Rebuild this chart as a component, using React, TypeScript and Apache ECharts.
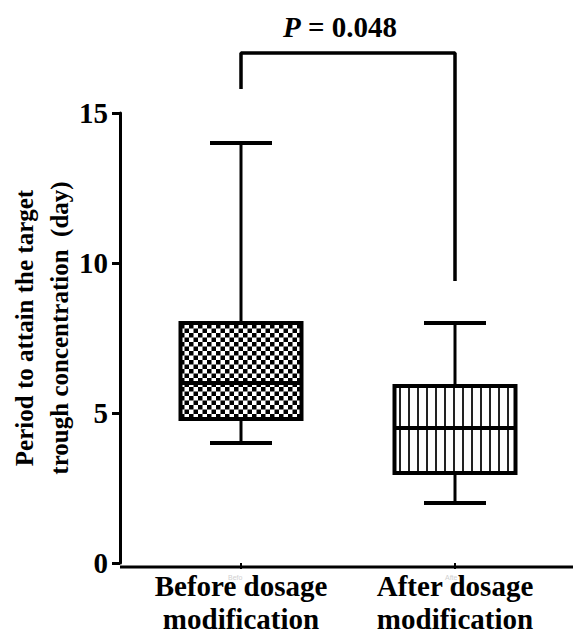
import React, { useEffect, useRef } from 'react';
import * as echarts from 'echarts';

const categories = ['Before dosage\nmodification', 'After dosage\nmodification'];
// [min, Q1, median, Q3, max]
const boxStats = [
  [4, 4.8, 6, 8, 14],
  [2, 3, 4.5, 5.9, 8],
];
const yMin = 0;
const yMax = 15;
const yInterval = 5;
const pValueText = '0.048';
// bracket: [category index, value]
const bracketPoints = [
  [0, 15.8],
  [0, 17],
  [1, 17],
  [1, 9.4],
];
const yTitleLines = ['Period to attain the target', 'trough concentration  (day)'];

const FONT = 'Liberation Serif';

function makeChecker(): HTMLCanvasElement {
  const c = document.createElement('canvas');
  c.width = 9;
  c.height = 9;
  const ctx = c.getContext('2d')!;
  ctx.fillStyle = '#fff';
  ctx.fillRect(0, 0, 9, 9);
  ctx.fillStyle = '#000';
  ctx.fillRect(0, 0, 4.5, 4.5);
  ctx.fillRect(4.5, 4.5, 4.5, 4.5);
  return c;
}

function makeVLines(): HTMLCanvasElement {
  const c = document.createElement('canvas');
  c.width = 9;
  c.height = 9;
  const ctx = c.getContext('2d')!;
  ctx.fillStyle = '#fff';
  ctx.fillRect(0, 0, 9, 9);
  ctx.fillStyle = '#222';
  ctx.fillRect(3, 0, 2, 9);
  return c;
}

export default function App() {
  const ref = useRef<HTMLDivElement>(null);
  useEffect(() => {
    if (!ref.current) return;
    const chart = echarts.init(ref.current, undefined, { renderer: 'svg' });
    const patterns = [makeChecker(), makeVLines()];
    const boxData = boxStats.map((v, i) => [i, ...v]);
    const BOX_W = 121;
    const CAP_W = 62;
    chart.setOption({
      animation: false,
      grid: { left: 134, right: 11, top: 113, bottom: 68 },
      xAxis: {
        type: 'category',
        data: categories,
        boundaryGap: true,
        axisLine: { show: false },
        axisTick: { show: true, alignWithLabel: true, length: 6, lineStyle: { color: '#000', width: 2 } },
        axisLabel: {
          color: '#000',
          fontFamily: FONT,
          fontWeight: 'bold',
          fontSize: 29,
          lineHeight: 33,
          margin: 6,
          interval: 0,
        },
        splitLine: { show: false },
      },
      yAxis: {
        type: 'value',
        min: yMin,
        max: yMax,
        interval: yInterval,
        offset: 14,
        axisLine: { show: true, lineStyle: { color: '#000', width: 3 } },
        axisTick: { show: true, length: 8, lineStyle: { color: '#000', width: 3 } },
        axisLabel: {
          color: '#000',
          fontFamily: FONT,
          fontWeight: 'bold',
          fontSize: 29,
          margin: 12,
        },
        splitLine: { show: false },
      },
      series: [
        {
          type: 'custom',
          data: boxData,
          encode: { x: 0, y: [1, 2, 3, 4, 5] },
          silent: true,
          renderItem: (params: any, api: any) => {
            const cat = api.value(0);
            const cx = api.coord([cat, 0])[0];
            const yMinP = api.coord([cat, api.value(1)])[1];
            const yQ1 = api.coord([cat, api.value(2)])[1];
            const yMed = api.coord([cat, api.value(3)])[1];
            const yQ3 = api.coord([cat, api.value(4)])[1];
            const yMaxP = api.coord([cat, api.value(5)])[1];
            const lineStyle = { stroke: '#000', lineWidth: 3 };
            const capStyle = { stroke: '#000', lineWidth: 4 };
            return {
              type: 'group',
              children: [
                { type: 'line', shape: { x1: cx, y1: yQ3, x2: cx, y2: yMaxP }, style: lineStyle },
                { type: 'line', shape: { x1: cx, y1: yQ1, x2: cx, y2: yMinP }, style: lineStyle },
                { type: 'line', shape: { x1: cx - CAP_W / 2, y1: yMaxP, x2: cx + CAP_W / 2, y2: yMaxP }, style: capStyle },
                { type: 'line', shape: { x1: cx - CAP_W / 2, y1: yMinP, x2: cx + CAP_W / 2, y2: yMinP }, style: capStyle },
                {
                  type: 'rect',
                  shape: { x: cx - BOX_W / 2, y: yQ3, width: BOX_W, height: yQ1 - yQ3 },
                  style: {
                    fill: { image: patterns[params.dataIndex], repeat: 'repeat' },
                    stroke: '#000',
                    lineWidth: 4,
                  },
                },
                { type: 'line', shape: { x1: cx - BOX_W / 2, y1: yMed, x2: cx + BOX_W / 2, y2: yMed }, style: { stroke: '#000', lineWidth: 4 } },
              ],
            };
          },
        },
        {
          type: 'line',
          data: bracketPoints,
          symbol: 'none',
          clip: false,
          silent: true,
          lineStyle: { color: '#000', width: 3.5 },
        },
      ],
      graphic: [
        {
          type: 'line',
          shape: { x1: 120, y1: 567, x2: 573, y2: 567 },
          style: { stroke: '#000', lineWidth: 3 },
        },
        {
          type: 'text',
          x: 42,
          y: 328,
          rotation: Math.PI / 2,
          style: {
            text: yTitleLines.join('\n'),
            fontFamily: FONT,
            fontWeight: 'bold',
            fontSize: 25,
            fill: '#000',
            align: 'center',
            verticalAlign: 'middle',
            lineHeight: 35,
          },
        },
        {
          type: 'text',
          x: 340,
          y: 27,
          style: {
            text: `{i|P} = ${pValueText}`,
            align: 'center',
            verticalAlign: 'middle',
            fontFamily: FONT,
            fontWeight: 'bold',
            fontSize: 29,
            fill: '#000',
            rich: {
              i: { fontStyle: 'italic', fontWeight: 'bold', fontFamily: FONT, fontSize: 29, fill: '#000' },
            },
          },
        },
        {
          type: 'text',
          x: 228,
          y: 574,
          style: { text: 'Befo', fontSize: 7, fontFamily: 'sans-serif', fill: '#d0d0d0' },
        },
        {
          type: 'text',
          x: 445,
          y: 574,
          style: { text: 'Afte', fontSize: 7, fontFamily: 'sans-serif', fill: '#d0d0d0' },
        },
      ],
    });
    return () => chart.dispose();
  }, []);
  return <div ref={ref} style={{ width: 573, height: 635, position: 'absolute', left: 0, top: 0 }} />;
}
